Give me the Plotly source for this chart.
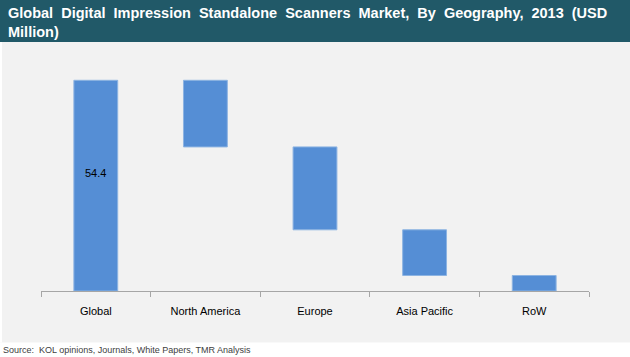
import plotly.graph_objects as go

categories = ["Global", "North America", "Europe", "Asia Pacific", "RoW"]
values = [54.4, -17.2, -21.4, -11.8, -4.0]
measures = ["absolute", "relative", "relative", "relative", "relative"]
label_text = "54.4"

title_line1 = "Global Digital Impression Standalone Scanners Market, By Geography, 2013 (USD"
title_line2 = "Million)"
source_text = "Source:  KOL opinions, Journals, White Papers, TMR Analysis"

W, H = 630, 357
L, R, T, B = 41, 41, 50, 66
pw, ph = W - L - R, H - T - B

def px_x(px):
    return (px - L) / pw

def px_y(py):
    return (H - B - py) / ph

bar_color = "#558ED5"
font_family = "Arial, Liberation Sans, sans-serif"

fig = go.Figure(go.Waterfall(
    x=categories,
    y=values,
    measure=measures,
    width=0.4,
    connector=dict(visible=False),
    increasing=dict(marker=dict(color=bar_color, line=dict(color="#8DB4E2", width=1))),
    decreasing=dict(marker=dict(color=bar_color, line=dict(color="#8DB4E2", width=1))),
    totals=dict(marker=dict(color=bar_color, line=dict(color="#8DB4E2", width=1))),
    textposition="none",
    showlegend=False,
))

shapes = [
    dict(type="rect", xref="paper", yref="paper", x0=px_x(-5), x1=px_x(W + 5),
         y0=px_y(42), y1=px_y(-5), fillcolor="#215968", line=dict(width=0), layer="below"),
    dict(type="rect", xref="paper", yref="paper", x0=px_x(-5), x1=px_x(W + 5),
         y0=px_y(H + 5), y1=px_y(342.5), fillcolor="white", line=dict(width=0), layer="below"),
    dict(type="rect", xref="paper", yref="paper", x0=px_x(-5), x1=px_x(2),
         y0=px_y(342.5), y1=px_y(42), fillcolor="white", line=dict(width=0), layer="below"),
]

title_html = "<b>" + title_line1.replace(" ", "&nbsp; ") + "<br>" + title_line2 + "</b>"

annotations = [
    dict(xref="paper", yref="paper", x=px_x(6), y=px_y(3), xanchor="left", yanchor="top",
         text=title_html, showarrow=False, align="left",
         font=dict(family=font_family, size=14.5, color="white")),
    dict(xref="paper", yref="paper", x=px_x(1), y=px_y(350), xanchor="left", yanchor="middle",
         text=source_text, showarrow=False, align="left",
         font=dict(family=font_family, size=9, color="#404040")),
    dict(x=categories[0], y=values[0] * 0.56, text=label_text, showarrow=False,
         font=dict(family=font_family, size=11, color="black")),
]

fig.update_layout(
    width=W, height=H,
    margin=dict(l=L, r=R, t=T, b=B, pad=0),
    paper_bgcolor="#F2F2F2",
    plot_bgcolor="#F2F2F2",
    shapes=shapes,
    annotations=annotations,
    font=dict(family=font_family, size=11, color="black"),
    xaxis=dict(showline=True, linecolor="#A6A6A6", linewidth=1, ticks="outside",
               tickson="boundaries", ticklen=5, tickcolor="#A6A6A6", showgrid=False,
               tickfont=dict(size=11, color="black"), range=[-0.5, 4.5],
               ticklabelstandoff=10),
    yaxis=dict(visible=False, range=[0, ph / 3.873], showgrid=False, zeroline=False),
    bargap=0.6,
)

fig.write_html("out.html", config={"displayModeBar": False},
               post_script="document.body.style.margin='0';document.body.style.padding='0';")
